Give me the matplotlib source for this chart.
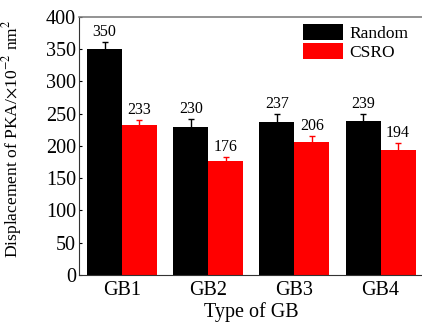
import numpy as np
import matplotlib.pyplot as plt

plt.rcParams['font.family'] = ['Liberation Serif', 'DejaVu Serif']
plt.rcParams['mathtext.fontset'] = 'stix'

# Displacement of PKA for each grain boundary type
gb_types = ['GB1', 'GB2', 'GB3', 'GB4']
random_vals = [350, 230, 237, 239]
random_err = [11, 12, 13, 10]
csro_vals = [233, 176, 206, 194]
csro_err = [7, 7.5, 9.5, 10]

fig = plt.figure(figsize=(4.22, 3.28), dpi=100)
ax = fig.add_axes([0.187, 0.1616, 0.815, 0.7866])

x = np.arange(len(gb_types))
w = 0.405

ax.bar(x - w / 2, random_vals, w, color='black', label='Random',
       yerr=random_err, error_kw=dict(ecolor='black', elinewidth=1, capsize=2.5, capthick=1))
ax.bar(x + w / 2, csro_vals, w, color='#ff0000', label='CSRO',
       yerr=csro_err, error_kw=dict(ecolor='#ff0000', elinewidth=1, capsize=2.5, capthick=1))

# value labels above the error bars
for xs, vals, errs in [(x - w / 2, random_vals, random_err), (x + w / 2, csro_vals, csro_err)]:
    for xi, v, e in zip(xs, vals, errs):
        ax.text(xi, v + e + 3, str(v), ha='center', va='bottom', fontsize=11.5)

ax.set_xlim(-0.5, 3.49)
ax.set_ylim(0, 400)
ax.set_yticks(range(0, 401, 50))
ax.set_xticks(x)
ax.set_xticklabels(gb_types, fontsize=14.5)
ax.tick_params(axis='y', direction='in', length=2.5, labelsize=14.5, pad=2)
ax.tick_params(axis='x', length=0, pad=4)

ax.set_xlabel('Type of GB', fontsize=14.5, labelpad=2)
ax.set_ylabel(r'Displacement of PKA/$\times$10$^{-2}$ nm$^{2}$', fontsize=12.6)
ax.yaxis.set_label_coords(-0.16, 0.53)

ax.spines['top'].set_color('#808080')
ax.spines['top'].set_linewidth(1.2)
ax.spines['right'].set_visible(False)
ax.spines['left'].set_color('#333333')
ax.spines['bottom'].set_color('#333333')

ax.legend(loc='upper left', bbox_to_anchor=(0.718, 0.926), bbox_transform=fig.transFigure,
          frameon=False, fontsize=12.5, handlelength=2.3, handleheight=1.05,
          labelspacing=0.02, handletextpad=0.35, borderpad=0, borderaxespad=0)

fig.savefig('out.png', dpi=100)
